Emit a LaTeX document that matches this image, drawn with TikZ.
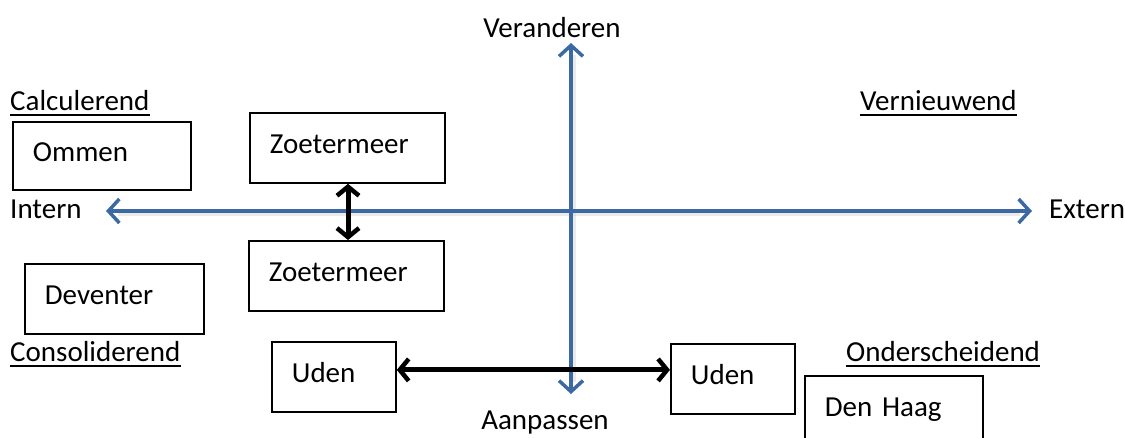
\documentclass[tikz,border=0pt]{standalone}
\usepackage{fontspec}
\setmainfont{Carlito}
\usetikzlibrary{arrows.meta,calc}
\definecolor{axisblue}{HTML}{3C69A3}
\tikzset{
  x=1pt,y=-1pt,
  lbl/.style={anchor=west,inner sep=0pt,font=\fontsize{29}{32}\selectfont},
  box/.style={draw=black,line width=1.8pt,anchor=north west,inner xsep=20pt,inner ysep=0pt,
    align=left,font=\fontsize{29}{32}\selectfont,text depth=8pt},
  axis/.style={draw=axisblue,line width=4pt,{Straight Barb[length=11pt,width=24pt,line width=3.5pt]}-{Straight Barb[length=11pt,width=24pt,line width=3.5pt]}},
  link/.style={draw=black,line width=5pt,{Straight Barb[length=9pt,width=22pt,line width=4.5pt]}-{Straight Barb[length=9pt,width=22pt,line width=4.5pt]}},
  shadowline/.style={draw=black!20,line width=4pt,opacity=0.4},
  uline/.style={draw=black,line width=2pt}
}
\begin{document}
\begin{tikzpicture}
\useasboundingbox (0,0) rectangle (1125,437);
\clip (0,0) rectangle (1125,437);
% boxes
\node[box,minimum width=178pt,minimum height=68pt,text width=138pt] (om) at (12,121) {Ommen};
\node[box,minimum width=195pt,minimum height=70pt,text width=155pt] (z1) at (249,112) {Zoetermeer};
\node[box,minimum width=195pt,minimum height=70pt,text width=155pt] (z2) at (248,240) {Zoetermeer};
\node[box,minimum width=179pt,minimum height=70pt,text width=139pt] (dv) at (24,263) {Deventer};
\node[box,minimum width=124pt,minimum height=70pt,text width=84pt] (u1) at (271,341) {Uden};
\node[box,minimum width=124pt,minimum height=70pt,text width=84pt] (u2) at (670,343) {Uden};
\node[box,minimum width=178pt,minimum height=70pt,text width=138pt] (dh) at (804,375) {Den Haag};
% axes
\coordinate (left) at (106,211);
\coordinate (right) at (1032,211);
\coordinate (top) at (571,43);
\coordinate (bottom) at (571,394);
\draw[shadowline] ($(left)+(12,3)$) -- ($(right)+(-12,3)$);
\draw[shadowline] ($(top)+(3,12)$) -- ($(bottom)+(3,-12)$);
\draw[axis] (left) -- (right);
\draw[axis] (bottom) -- (top);
% links
\draw[link] (z1.south -| 348,0) -- (z2.north -| 348,0);
\draw[link] ([yshift=7pt]u1.east) -- ([yshift=9pt]u2.west);
% labels
\node[lbl] (intern) at (10,209) {Intern};
\node[lbl] (extern) at (1049,209) {Extern};
\node[lbl,anchor=center] (ver) at (552,28) {Veranderen};
\node[lbl,anchor=center] (aan) at (545,423) {Aanpassen};
\node[lbl] (calc) at (10,101) {Calculerend};
\node[lbl] (vern) at (860,101) {Vernieuwend};
\node[lbl] (cons) at (10,352) {Consoliderend};
\node[lbl] (ond) at (846,352) {Onderscheidend};
\foreach \n in {calc,vern,cons,ond}
  \draw[uline] ([yshift=-4pt]\n.base west) -- ([yshift=-4pt]\n.base east);
\end{tikzpicture}
\end{document}
